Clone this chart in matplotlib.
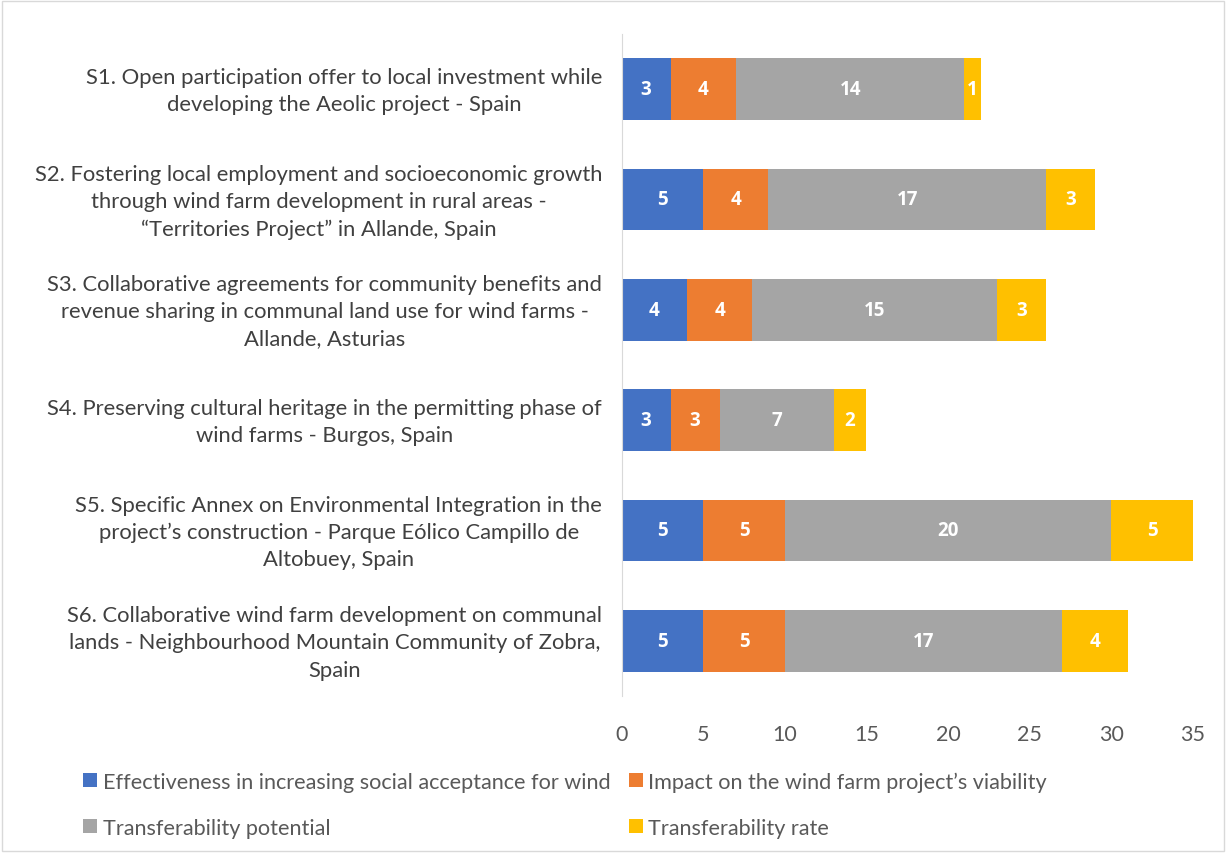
import matplotlib.pyplot as plt
import matplotlib.transforms as mtransforms
from matplotlib.patches import Rectangle

# Strategies (top to bottom)
labels = [
    "S1. Open participation offer to local investment while\ndeveloping the Aeolic project - Spain",
    "S2. Fostering local employment and socioeconomic growth\nthrough wind farm development in rural areas -\n\u201cTerritories Project\u201d in Allande, Spain",
    "S3. Collaborative agreements for community benefits and\nrevenue sharing in communal land use for wind farms -\nAllande, Asturias",
    "S4. Preserving cultural heritage in the permitting phase of\nwind farms - Burgos, Spain",
    "S5. Specific Annex on Environmental Integration in the\nproject\u2019s construction - Parque E\u00f3lico Campillo de\nAltobuey, Spain",
    "S6. Collaborative wind farm development on communal\nlands - Neighbourhood Mountain Community of Zobra,\nSpain",
]
effectiveness = [3, 5, 4, 3, 5, 5]
viability = [4, 4, 4, 3, 5, 5]
potential = [14, 17, 15, 7, 20, 17]
rate = [1, 3, 3, 2, 5, 4]

series_names = [
    "Effectiveness in increasing social acceptance for wind",
    "Impact on the wind farm project\u2019s viability",
    "Transferability potential",
    "Transferability rate",
]
colors = ["#4472C4", "#ED7D31", "#A5A5A5", "#FFC000"]

plt.rcParams['font.family'] = ['Lato', 'DejaVu Sans']

fig = plt.figure(figsize=(12.26, 8.54), dpi=100)
ax = fig.add_axes([0.507, 0.184, 0.466, 0.775])

y = list(range(len(labels)))
left = [0] * len(labels)
for vals, name, col in zip([effectiveness, viability, potential, rate], series_names, colors):
    bars = ax.barh(y, vals, left=left, height=0.56, color=col, label=name)
    ax.bar_label(bars, labels=[str(v) for v in vals], label_type='center',
                 color='white', fontweight='bold', fontsize=13.5,
                 fontfamily=['Open Sans', 'DejaVu Sans'])
    left = [l + v for l, v in zip(left, vals)]

ax.set_ylim(len(labels) - 0.5, -0.5)
ax.set_xlim(0, 35)
ax.set_xticks(range(0, 36, 5))
ax.set_yticks(y)
ax.set_yticklabels(labels, fontsize=15.8, color='#404040', multialignment='center',
                   linespacing=1.45)
ax.tick_params(axis='x', length=0, labelsize=15.5, labelcolor='#595959', pad=20)
ax.tick_params(axis='y', length=0, pad=14)
# nudge the category labels up a little
shift = mtransforms.ScaledTranslation(0, 4 / 100, fig.dpi_scale_trans)
for t in ax.get_yticklabels():
    t.set_transform(t.get_transform() + shift)
for s in ['top', 'right', 'bottom']:
    ax.spines[s].set_visible(False)
ax.spines['left'].set_color('#D9D9D9')

handles, names = ax.get_legend_handles_labels()
order = [0, 2, 1, 3]
fig.legend([handles[i] for i in order], [names[i] for i in order],
           loc='lower left', bbox_to_anchor=(0.052, -0.005),
           ncol=2, frameon=False, fontsize=15.6, handlelength=0.65, handleheight=0.65,
           handletextpad=0.25, columnspacing=0.85, labelspacing=1.2, labelcolor='#595959')

fig.patches.append(Rectangle((0.002, 0.002), 0.996, 0.996, transform=fig.transFigure,
                             fill=False, edgecolor='#D9D9D9', linewidth=1))

plt.savefig('out.png', dpi=100)
